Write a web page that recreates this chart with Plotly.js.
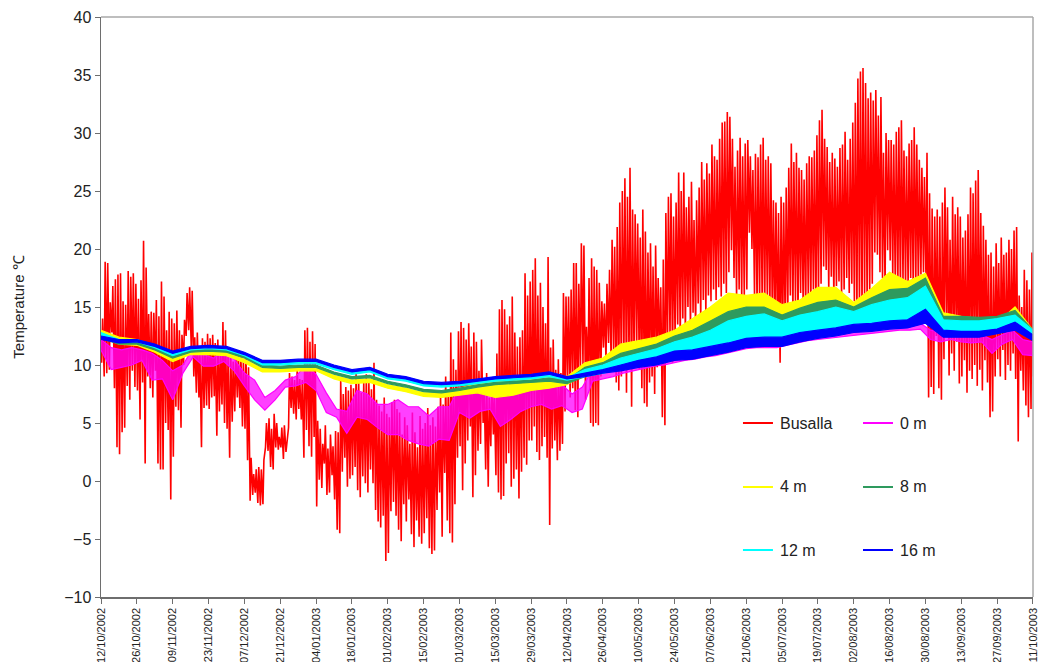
<!DOCTYPE html>
<html>
<head>
<meta charset="utf-8">
<script src="https://cdn.plot.ly/plotly-3.0.1.min.js"></script>
<style>html,body{margin:0;padding:0;background:#fff}#chart{width:1041px;height:662px}</style>
</head>
<body>
<div id="chart"></div>
<script>
// ---- DATA ----
const startDate = '2002-10-12';
// Busalla air temperature: daily maximum and minimum (days 0..364 from 12/10/2002)
const busallaMax = [
14.0,18.9,18.8,15.4,16.8,17.4,17.8,17.9,15.5,15.2,18.1,17.6,17.9,17.0,
15.7,17.3,20.7,18.4,14.4,14.6,14.5,15.6,14.2,17.2,15.9,13.0,14.6,14.0,
13.6,14.7,13.0,12.6,13.9,16.2,16.7,16.4,12.4,12.8,11.2,12.3,12.0,12.7,
12.3,12.6,11.9,12.2,11.5,13.7,13.0,10.7,11.4,10.3,11.2,10.9,11.0,10.5,
11.0,9.8,2.0,0.6,1.0,1.2,1.0,1.8,5.0,5.4,4.5,5.8,5.0,3.8,
4.6,4.8,3.6,9.3,9.0,8.7,9.6,8.8,8.7,13.0,13.2,12.0,12.9,11.8,
5.2,4.5,3.2,4.8,2.8,4.0,3.0,4.3,4.2,8.7,7.5,8.1,7.8,8.3,
8.0,9.4,9.0,7.6,8.6,9.2,8.5,7.9,10.2,7.0,6.5,6.0,7.2,5.8,
5.5,6.8,7.0,6.2,5.9,4.0,5.5,4.8,3.2,5.9,4.2,2.9,5.6,4.5,
5.0,6.3,4.8,5.5,4.7,6.4,7.5,6.6,9.0,7.8,12.8,10.5,9.6,12.9,
13.7,13.2,12.2,13.6,11.6,12.8,12.0,9.5,12.2,8.5,9.3,7.2,8.8,7.5,
11.0,14.8,15.6,14.8,13.5,14.2,15.9,12.8,11.6,12.4,13.0,17.9,16.0,17.2,
18.2,19.2,16.0,17.1,15.0,13.6,19.3,11.5,12.2,9.6,10.5,9.3,16.2,15.9,
15.9,16.5,18.8,18.8,17.0,20.5,20.3,13.3,17.5,19.2,18.5,18.2,17.1,15.5,
15.3,17.0,18.2,20.8,20.2,21.9,24.0,25.0,26.1,24.5,27.0,23.4,23.0,22.2,
21.0,23.4,21.5,19.7,20.5,18.5,20.3,17.5,16.7,19.1,23.1,24.5,24.8,22.8,
24.0,26.6,25.0,26.6,23.6,24.5,25.8,22.5,24.2,25.3,27.5,26.0,27.4,26.5,
29.0,28.0,27.7,29.5,30.9,31.0,31.8,31.4,29.5,27.1,28.5,29.6,28.0,29.1,
29.4,28.0,26.8,28.2,27.9,29.0,29.6,27.7,28.0,27.4,24.2,24.0,23.1,24.5,
24.0,25.3,27.0,29.1,27.5,28.3,27.0,26.8,26.0,27.4,28.0,27.9,28.5,29.8,
31.1,32.0,29.5,28.8,27.5,28.3,27.8,27.1,28.7,29.0,30.1,27.7,29.5,30.9,
32.6,34.7,35.3,35.6,34.3,33.0,33.5,32.8,33.7,31.5,33.1,28.3,30.0,29.4,
29.4,29.0,30.1,30.5,31.1,28.5,28.0,29.1,29.4,30.5,29.0,27.7,27.0,26.2,
28.3,24.8,23.5,22.8,23.4,22.8,24.0,25.3,23.6,20.8,24.5,23.0,23.6,22.8,
21.0,21.6,23.0,25.3,24.8,25.9,26.8,23.1,22.0,20.8,19.5,19.7,18.5,20.5,
18.8,21.0,19.5,19.7,20.8,20.0,21.6,21.9,16.0,15.0,18.2,17.3,16.5,19.7,12.5
];
const busallaMin = [
10.2,9.0,9.3,9.6,12.8,8.0,2.9,2.3,4.2,4.6,8.2,7.0,9.5,8.1,
7.8,5.3,8.5,1.5,9.0,8.0,7.2,9.5,1.5,1.0,1.0,5.0,4.4,-1.6,
2.1,6.4,6.1,4.6,10.0,12.5,13.0,11.5,9.0,7.6,7.2,2.9,6.3,6.5,
6.2,7.2,7.3,3.9,6.0,6.6,5.0,4.5,2.0,5.1,6.0,7.2,6.3,4.7,
4.5,1.8,-1.7,-1.2,-1.0,-1.9,-2.1,-2.0,2.9,2.6,1.2,1.0,2.9,2.7,
2.9,1.9,2.5,4.6,6.3,5.8,5.3,6.2,5.3,2.0,4.4,3.0,2.1,3.8,
-2.2,0.1,-0.6,1.5,-1.2,-1.0,0.5,-1.6,-4.2,-4.5,0.8,2.0,-0.5,0.2,
0.5,1.2,-0.8,-1.4,0.4,-0.2,-1.0,1.0,-0.2,-2.5,-3.5,-4.0,-3.0,-6.9,
-6.2,-2.6,-1.8,-3.0,-4.2,-5.2,-2.0,-3.5,-1.6,-4.6,-5.7,-3.4,-4.8,-5.4,
-4.5,-3.2,-5.8,-6.3,-6.0,-2.5,-1.0,-4.8,0.7,-3.4,-4.5,-5.3,-2.0,2.0,
3.0,-0.8,1.5,3.5,4.7,-1.4,0.5,2.6,3.2,5.0,1.0,-0.5,3.0,4.0,
0.5,-1.0,-1.6,-1.3,1.5,2.4,-0.5,0.2,1.0,-1.5,0.8,2.0,1.4,3.5,
3.5,4.7,2.5,1.8,3.0,3.8,2.0,-3.8,2.8,3.5,1.8,2.6,3.2,6.0,
8.4,7.2,8.0,6.1,5.5,9.5,10.0,7.0,9.2,5.0,4.7,5.0,4.8,9.0,
11.5,10.5,11.9,10.2,10.7,8.5,7.8,9.0,11.0,7.6,10.5,6.4,9.8,12.0,
9.6,8.0,6.7,6.4,8.5,9.0,7.5,9.8,10.5,5.5,4.8,11.0,12.4,10.2,
12.0,13.5,11.9,14.0,12.5,15.0,13.0,14.5,12.8,15.3,14.0,15.6,14.5,16.0,
15.5,16.5,15.6,16.7,15.9,17.0,16.2,18.0,19.9,17.5,15.8,16.5,15.6,16.0,
16.5,21.4,20.0,16.0,15.0,15.5,15.2,14.8,16.0,14.5,13.3,14.0,12.5,10.2,
12.0,13.3,14.5,16.0,14.2,15.5,13.9,16.2,15.0,14.5,16.0,15.2,16.5,14.8,
16.0,17.0,18.5,18.2,16.5,17.6,15.6,16.8,17.2,15.9,16.5,17.5,16.2,17.0,
15.5,14.1,15.0,14.5,16.0,14.8,16.5,17.0,19.7,19.5,18.0,17.5,16.5,19.9,
19.0,17.6,16.5,17.0,16.2,17.2,16.5,16.8,17.5,16.2,17.0,16.5,17.8,18.0,
17.0,7.2,8.1,7.5,12.5,8.0,7.0,10.5,13.3,9.1,11.0,9.5,12.0,8.4,
9.0,10.4,7.6,9.5,8.8,10.0,8.2,9.6,7.8,10.4,8.5,5.5,6.0,9.0,
10.5,9.0,11.3,8.7,10.0,9.5,11.0,8.8,3.4,9.5,7.8,6.5,5.5,6.2,9.0
];
// Lake layers: weekly upper / lower envelope (days 0,7,...,364)
const lakeWeekStep = 7;
const m4Hi  = [13.0,12.4,12.2,11.4,10.6,11.2,11.2,11.1,10.5,9.7,9.7,9.8,9.8,9.1,8.7,8.8,8.3,8.0,7.6,7.6,8.0,8.4,8.6,8.6,8.9,9.2,9.0,10.2,10.6,11.8,12.1,12.4,13.0,14.0,15.0,16.2,16.0,16.2,15.2,15.6,16.7,16.7,15.4,16.6,18.0,17.2,17.9,14.5,14.2,14.0,13.6,15.0,13.0];
const m4Lo  = [12.5,11.8,11.7,11.1,10.3,10.9,10.9,10.8,10.2,9.4,9.4,9.5,9.5,8.8,8.4,8.5,8.0,7.7,7.3,7.2,7.4,7.6,7.2,7.4,7.8,8.0,8.3,9.2,9.4,10.2,10.6,10.8,11.2,11.8,12.2,12.8,13.0,13.0,13.0,13.3,13.6,13.8,13.8,14.0,14.3,14.5,15.0,13.4,13.4,13.3,13.2,13.6,12.6];
const m8Hi  = [12.6,12.0,12.0,11.5,10.8,11.3,11.4,11.3,10.8,10.0,9.9,10.0,10.0,9.4,9.0,9.1,8.6,8.3,7.9,7.8,8.0,8.3,8.5,8.6,8.7,8.9,8.7,9.8,10.2,11.0,11.4,11.8,12.5,13.0,13.8,14.6,15.0,15.0,14.3,14.9,15.4,15.6,15.0,15.8,16.5,16.6,17.5,14.2,14.2,14.1,14.2,14.7,13.0];
const m8Lo  = [12.3,11.8,11.8,11.3,10.6,11.1,11.2,11.1,10.6,9.8,9.7,9.8,9.8,9.2,8.8,8.9,8.4,8.1,7.7,7.6,7.8,8.1,8.3,8.4,8.5,8.6,8.4,9.0,9.3,9.8,10.2,10.5,11.0,11.4,11.8,12.3,12.6,12.7,12.6,13.0,13.3,13.5,13.6,13.8,14.0,14.2,14.6,13.2,13.2,13.2,13.3,13.5,12.5];
const m12Hi = [12.8,12.2,12.2,11.7,11.0,11.5,11.6,11.5,11.0,10.2,10.2,10.3,10.3,9.8,9.4,9.6,9.0,8.8,8.4,8.3,8.4,8.6,8.8,8.9,9.0,9.2,8.9,9.6,10.0,10.6,11.0,11.4,12.0,12.4,13.0,13.8,14.2,14.4,13.8,14.3,14.6,15.0,14.6,15.2,15.6,15.8,16.8,13.9,13.8,13.8,14.0,14.3,13.0];
const m12Lo = [12.4,12.0,12.0,11.5,10.8,11.3,11.4,11.3,10.8,10.0,10.0,10.1,10.1,9.6,9.2,9.4,8.8,8.6,8.2,8.1,8.2,8.4,8.6,8.7,8.8,9.0,8.7,9.0,9.3,9.6,10.0,10.3,10.7,11.0,11.2,11.6,11.9,12.0,12.0,12.4,12.6,12.8,13.0,13.1,13.3,13.4,14.0,12.8,12.8,12.8,13.0,13.2,12.4];
const m16Hi = [12.5,12.2,12.2,11.8,11.2,11.6,11.7,11.6,11.1,10.4,10.4,10.5,10.5,10.0,9.6,9.8,9.2,9.0,8.6,8.5,8.6,8.8,9.0,9.1,9.2,9.4,9.0,9.3,9.6,10.0,10.4,10.7,11.2,11.3,11.6,11.9,12.3,12.4,12.4,12.8,13.0,13.2,13.5,13.6,13.8,13.9,14.8,13.0,12.9,12.9,13.1,13.7,12.6];
const m16Lo = [12.2,11.9,12.0,11.6,11.0,11.4,11.5,11.4,10.9,10.2,10.2,10.3,10.3,9.8,9.4,9.6,9.0,8.8,8.4,8.3,8.4,8.6,8.8,8.9,9.0,9.2,8.8,9.0,9.3,9.5,9.8,10.0,10.4,10.5,10.8,11.1,11.5,11.6,11.6,12.0,12.3,12.5,12.8,12.9,13.1,13.2,13.6,12.4,12.4,12.4,12.7,13.0,12.1];
// Surface (0 m): upper / lower envelope every 4 days (days 0,4,...,364)
const surfStep = 4;
const m0Hi = [12.2,11.5,11.3,11.5,11.3,11.0,10.4,9.5,10.0,11.5,10.9,10.6,11.3,10.5,9.3,8.7,7.2,7.8,8.7,9.0,10.0,9.2,7.6,6.2,6.0,7.8,7.5,6.6,6.6,7.0,6.4,6.4,5.6,6.4,6.4,8.1,7.8,8.2,7.6,7.6,8.0,8.4,8.7,8.6,8.2,8.3,7.5,8.1,9.6,9.8,9.6,9.7,9.9,10.1,10.3,10.5,10.7,10.9,11.0,11.2,11.3,11.5,11.7,11.9,12.0,12.0,12.0,12.2,12.4,12.6,12.7,12.8,12.9,13.0,13.1,13.2,13.3,13.4,13.5,13.5,13.6,13.0,12.8,12.8,12.7,12.5,12.6,12.2,12.6,13.0,12.2,12.0];
const m0Lo = [11.3,9.6,9.8,10.0,10.4,8.7,8.8,7.0,9.3,10.7,9.9,9.9,10.3,9.5,8.2,7.0,6.1,7.0,8.1,8.2,8.5,7.8,5.9,5.5,4.1,5.5,5.3,4.6,4.0,4.0,3.5,3.2,3.0,3.6,3.5,5.9,5.4,6.0,6.2,4.7,5.3,6.0,6.4,6.6,6.2,6.5,5.9,6.2,8.6,8.8,9.0,9.3,9.5,9.7,9.9,10.0,10.2,10.4,10.5,10.7,10.8,11.0,11.2,11.4,11.5,11.5,11.5,11.7,11.9,12.1,12.2,12.3,12.4,12.5,12.6,12.7,12.8,12.9,13.0,13.0,13.1,12.2,12.0,12.2,12.0,11.9,12.0,11.0,11.8,12.2,10.9,10.8];
const yTicks = [-10,-5,0,5,10,15,20,25,30,35,40];
const seriesNames = ['Busalla','0 m','4 m','8 m','12 m','16 m'];
const seriesColors = ['#ff0000','#ff00ff','#ffff00','#2e9a5e','#00ffff','#0000ff'];

// ---- BUILD ----
const DAY = 86400000;
const T0 = Date.parse(startDate + 'T00:00:00Z');
function checkLen(a, n, name){ if(a.length!==n) throw new Error(name+' length '+a.length+' != '+n); }
checkLen(busallaMax,365,'busallaMax'); checkLen(busallaMin,365,'busallaMin');
[m4Hi,m4Lo,m8Hi,m8Lo,m12Hi,m12Lo,m16Hi,m16Lo].forEach((a,i)=>checkLen(a,53,'lake'+i));
checkLen(m0Hi,92,'m0Hi'); checkLen(m0Lo,92,'m0Lo');

const redX=[], redY=[];
for(let i=0;i<busallaMax.length;i++){
  redX.push(T0+(i+0.25)*DAY); redY.push(busallaMin[i]);
  redX.push(T0+(i+0.62)*DAY); redY.push(busallaMax[i]);
}
const traces=[{x:redX,y:redY,type:'scatter',mode:'lines',line:{color:seriesColors[0],width:1.6},name:seriesNames[0],showlegend:false,hoverinfo:'skip'}];

function band(hi, lo, step, color, fill){
  const xs = hi.map((_,i)=>T0+i*step*DAY);
  traces.push({x:xs,y:lo,type:'scatter',mode:'lines',line:{color:color,width:1.2},showlegend:false,hoverinfo:'skip'});
  traces.push({x:xs,y:hi,type:'scatter',mode:'lines',line:{color:color,width:1.2},fill:'tonexty',fillcolor:fill||color,showlegend:false,hoverinfo:'skip'});
}
band(m0Hi,m0Lo,surfStep,seriesColors[1],'rgba(255,0,255,0.75)');
band(m4Hi,m4Lo,lakeWeekStep,seriesColors[2]);
band(m8Hi,m8Lo,lakeWeekStep,seriesColors[3]);
band(m12Hi,m12Lo,lakeWeekStep,seriesColors[4]);
band(m16Hi,m16Lo,lakeWeekStep,seriesColors[5]);

// custom legend (two columns, three rows)
const legCols=[0.6888,0.8176], legRows=[0.300,0.1897,0.081], legLen=0.0322;
const shapes=[
  {type:'line',xref:'paper',yref:'paper',x0:0,x1:1,y0:1,y1:1,line:{color:'#a8a8a8',width:1.5}},
  {type:'line',xref:'paper',yref:'paper',x0:1,x1:1,y0:0,y1:1,line:{color:'#a8a8a8',width:1.5}}
];
const annotations=[];
seriesNames.forEach((nm,i)=>{
  const c=legCols[i%2], r=legRows[Math.floor(i/2)];
  shapes.push({type:'line',xref:'paper',yref:'paper',x0:c,x1:c+legLen,y0:r,y1:r,line:{color:seriesColors[i],width:2}});
  annotations.push({xref:'paper',yref:'paper',x:c+legLen+0.0054,y:r,text:nm,showarrow:false,xanchor:'left',yanchor:'middle',font:{size:16,color:'#222'}});
});

const layout={
  width:1041,height:662,
  margin:{l:101,r:8,t:17,b:65},
  paper_bgcolor:'#fff',plot_bgcolor:'#fff',
  font:{family:'"Liberation Sans", Arial, sans-serif',color:'#222'},
  showlegend:false,
  xaxis:{type:'date',range:[T0,T0+364.02*DAY],tick0:T0,dtick:14*DAY,tickformat:'%d/%m/%Y',tickangle:-90,
    ticklabeloverflow:'allow',
    tickfont:{size:11,color:'#222'},ticks:'outside',ticklen:5,tickcolor:'#6e6e6e',
    showgrid:false,zeroline:false,showline:true,linecolor:'#6e6e6e',linewidth:1.5},
  yaxis:{range:[-10,40],tickvals:yTicks,ticks:'outside',ticklen:5,tickcolor:'#6e6e6e',
    tickfont:{size:16,color:'#222'},showgrid:false,zeroline:false,showline:true,linecolor:'#6e6e6e',linewidth:1.5,
    title:{text:'Temperature ℃',font:{size:15,color:'#222'},standoff:36}},
  shapes:shapes,annotations:annotations
};
Plotly.newPlot('chart',traces,layout,{displayModeBar:false,staticPlot:true});
</script>
</body>
</html>
